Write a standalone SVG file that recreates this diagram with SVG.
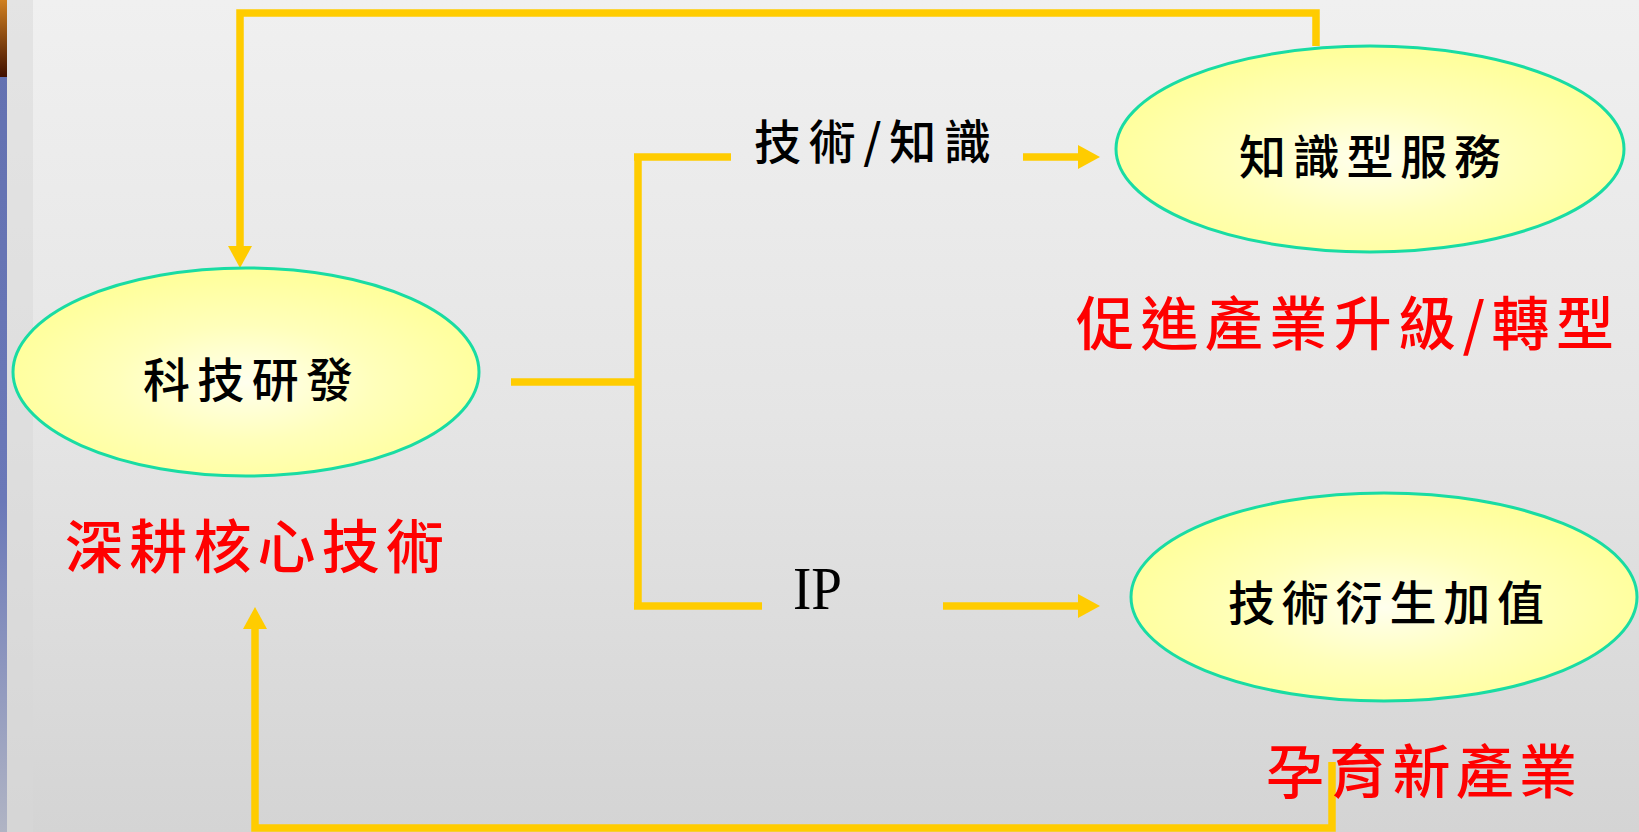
<svg xmlns="http://www.w3.org/2000/svg" width="1639" height="832" viewBox="0 0 1639 832">
<style>
.conn{fill:none;stroke:#ffcc00;stroke-width:7.5;stroke-linejoin:miter;stroke-linecap:butt}
.node{fill:url(#nodeFill);stroke:#19dca3;stroke-width:3}
.lbl{font-family:"Noto Sans CJK TC","Noto Sans CJK SC",sans-serif;font-size:47px;fill:#000;font-weight:500}
.red{font-family:"Noto Sans CJK TC","Noto Sans CJK SC",sans-serif;font-size:58px;fill:#ff0000;font-weight:500}
.ip{font-family:"Liberation Serif",serif;font-size:62px;fill:#000}
</style>
<defs>
<linearGradient id="bg" x1="0" y1="0" x2="0" y2="1">
<stop offset="0" stop-color="#f0f0f0"/>
<stop offset="0.5" stop-color="#e5e5e5"/>
<stop offset="1" stop-color="#d4d4d4"/>
</linearGradient>
<linearGradient id="strip" x1="0" y1="0" x2="0" y2="1">
<stop offset="0" stop-color="#6270b0"/>
<stop offset="0.6" stop-color="#6a78b8"/>
<stop offset="1" stop-color="#b0b4c4"/>
</linearGradient>
<linearGradient id="orange" x1="0" y1="0" x2="0" y2="1">
<stop offset="0" stop-color="#d08020"/>
<stop offset="1" stop-color="#401000"/>
</linearGradient>
<radialGradient id="nodeFill" cx="0.5" cy="0.55" r="0.55">
<stop offset="0" stop-color="#ffffee"/>
<stop offset="0.5" stop-color="#ffffbb"/>
<stop offset="1" stop-color="#ffff99"/>
</radialGradient>
<marker id="arr" viewBox="0 0 22 24" markerWidth="22" markerHeight="24" refX="0" refY="12" orient="auto" markerUnits="userSpaceOnUse">
<path d="M0,0 L22,12 L0,24 z" fill="#ffcc00"/>
</marker>
</defs>
<rect x="0" y="0" width="1639" height="832" fill="url(#bg)"/>
<rect x="7" y="0" width="26" height="832" fill="#d8d8d8" opacity="0.5"/>
<rect x="0" y="0" width="7" height="832" fill="url(#strip)"/>
<rect x="0" y="0" width="7" height="77" fill="url(#orange)"/>

<g id="connectors">
<path class="conn" d="M1316,46 V13 H240 V246" marker-end="url(#arr)"/>
<path class="conn" d="M511,382 H638"/>
<path class="conn" d="M638,157 V606"/>
<path class="conn" d="M634,157 H731"/>
<path class="conn" d="M634,606 H762"/>
<path class="conn" d="M1023,157 H1078" marker-end="url(#arr)"/>
<path class="conn" d="M943,606 H1078" marker-end="url(#arr)"/>
<path class="conn" d="M1332,762 V828 H255 V629" marker-end="url(#arr)"/>
</g>

<g id="node-rd">
<ellipse class="node" cx="246" cy="372" rx="233" ry="104"/>
<text class="lbl" x="143" y="397" textLength="210" lengthAdjust="spacing">科技研發</text>
</g>
<g id="label-core">
<text class="red" x="65" y="568" textLength="379" lengthAdjust="spacing">深耕核心技術</text>
</g>
<g id="label-tech-knowledge">
<text class="lbl" x="754" y="159" textLength="237" lengthAdjust="spacing">技術/知識</text>
</g>
<g id="label-ip">
<text class="ip" x="793" y="609" textLength="49" lengthAdjust="spacingAndGlyphs">IP</text>
</g>
<g id="node-service">
<ellipse class="node" cx="1370" cy="149" rx="254" ry="103"/>
<text class="lbl" x="1239" y="174" textLength="262" lengthAdjust="spacing">知識型服務</text>
</g>
<g id="label-upgrade">
<text class="red" x="1076" y="345" textLength="538" lengthAdjust="spacing">促進產業升級/轉型</text>
</g>
<g id="node-derive">
<ellipse class="node" cx="1384" cy="597" rx="253" ry="104"/>
<text class="lbl" x="1228" y="620" textLength="316" lengthAdjust="spacing">技術衍生加值</text>
</g>
<g id="label-new">
<text class="red" x="1266" y="793" textLength="311" lengthAdjust="spacing">孕育新產業</text>
</g>
</svg>
